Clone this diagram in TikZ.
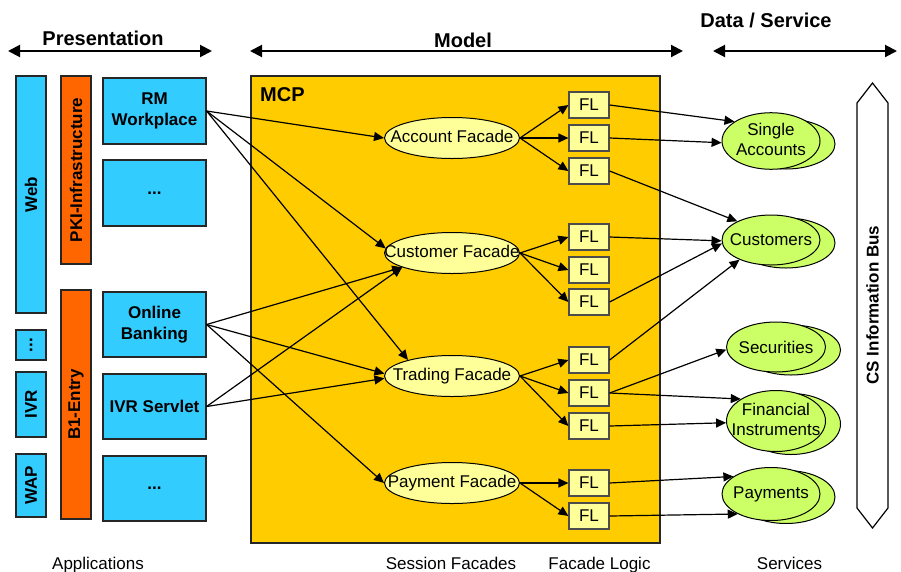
\documentclass[tikz,border=0pt]{standalone}
\usepackage{fontspec}
\setmainfont{Liberation Sans}
\usetikzlibrary{shapes.geometric,arrows.meta}
\definecolor{appblue}{HTML}{33CCFF}
\definecolor{infraorange}{HTML}{FF6600}
\definecolor{mcpgold}{HTML}{FFCC00}
\definecolor{paleyellow}{HTML}{FFFF99}
\definecolor{svcgreen}{HTML}{CCFF66}
\begin{document}
\begin{tikzpicture}[x=1pt,y=-1pt,
  appbox/.style={draw=black!85, line width=1.2pt, fill=appblue, inner sep=0pt,
    font=\fontsize{17}{21}\selectfont\bfseries, align=center},
  infrabox/.style={appbox, fill=infraorange},
  mcpbox/.style={draw=black!85, line width=1.5pt, fill=mcpgold, inner sep=0pt},
  facade/.style={ellipse, draw=black, line width=1pt, fill=paleyellow, inner sep=0pt,
    minimum width=135pt, minimum height=41pt, font=\fontsize{17}{20}\selectfont},
  flbox/.style={draw=black!70, line width=1.2pt, fill=paleyellow, inner sep=0pt,
    minimum width=40pt, minimum height=26pt, font=\fontsize{17}{20}\selectfont},
  svc/.style={ellipse, draw=black, line width=1pt, fill=svcgreen, inner sep=0pt,
    font=\fontsize{17}{20}\selectfont},
  busbox/.style={draw=black, line width=1.2pt, fill=white},
  conn/.style={line width=1.2pt, -{Triangle[length=10pt,width=9pt]}},
  hdrarrow/.style={line width=2pt, {Triangle[length=12pt,width=12pt]}-{Triangle[length=12pt,width=12pt]}},
  hdr/.style={font=\fontsize{20}{24}\selectfont\bfseries, anchor=base, inner sep=0pt},
  foot/.style={font=\fontsize{17}{20}\selectfont, anchor=base, inner sep=0pt}
]
\useasboundingbox (0,0) rectangle (901,571);

% headers
\node[hdr] (hpres) at (103,45) {Presentation};
\node[hdr] (hmodel) at (463,47) {Model};
\node[hdr] (hdata) at (766,27) {Data / Service};
\coordinate (pa1) at (8,51);   \coordinate (pa2) at (212,51);
\coordinate (ma1) at (250,51); \coordinate (ma2) at (683,51);
\coordinate (da1) at (713,51); \coordinate (da2) at (897,51);
\draw[hdrarrow] (pa1) -- (pa2);
\draw[hdrarrow] (ma1) -- (ma2);
\draw[hdrarrow] (da1) -- (da2);

% left column channels
\node[appbox, rotate=90, minimum width=237pt, minimum height=30pt] (web) at (31,194.5) {Web};
\node[appbox, rotate=90, minimum width=30pt, minimum height=30pt] (chdots) at (31,345) {...};
\node[appbox, rotate=90, minimum width=65pt, minimum height=30pt] (ivr) at (31,404.5) {IVR};
\node[appbox, rotate=90, minimum width=63pt, minimum height=30pt] (wap) at (31,485.5) {WAP};

% infrastructure
\node[infrabox, rotate=90, minimum width=188pt, minimum height=30pt] (pki) at (76,170) {PKI-Infrastructure};
\node[infrabox, rotate=90, minimum width=229pt, minimum height=30pt] (b1) at (76,404.5) {B1-Entry};

% applications
\node[appbox, minimum width=103pt, minimum height=66pt] (rm) at (154.5,111) {RM\\Workplace};
\node[appbox, minimum width=103pt, minimum height=66pt] (appdots1) at (154.5,193) {...};
\node[appbox, minimum width=103pt, minimum height=65pt] (ob) at (154.5,324.5) {Online\\Banking};
\node[appbox, minimum width=103pt, minimum height=65pt] (ivrs) at (154.5,406.5) {IVR Servlet};
\node[appbox, minimum width=103pt, minimum height=65pt] (appdots2) at (154.5,488.5) {...};

% MCP
\node[mcpbox, minimum width=409pt, minimum height=467pt] (mcp) at (455.5,309.5) {};
\node[font=\fontsize{20}{24}\selectfont\bfseries, anchor=base west, inner sep=0pt] (mcplabel) at (260,101) {MCP};

% facades
\node[facade, text height=12pt, text depth=3.5pt] (af) at (452,138) {\makebox[0pt]{Account Facade}};
\node[facade, text height=12pt, text depth=3.5pt] (cf) at (452,253) {\makebox[0pt]{Customer Facade}};
\node[facade, text height=12pt, text depth=3.5pt] (tf) at (452,376) {\makebox[0pt]{Trading Facade}};
\node[facade, text height=12pt, text depth=3.5pt] (pf) at (452,483) {\makebox[0pt]{Payment Facade}};

% facade logic
\node[flbox] (fa1) at (589,105) {FL};
\node[flbox] (fa2) at (589,138) {FL};
\node[flbox] (fa3) at (589,171) {FL};
\node[flbox] (fc1) at (589,237) {FL};
\node[flbox] (fc2) at (589,270) {FL};
\node[flbox] (fc3) at (589,302) {FL};
\node[flbox] (ft1) at (589,360) {FL};
\node[flbox] (ft2) at (589,393) {FL};
\node[flbox] (ft3) at (589,426) {FL};
\node[flbox] (fp1) at (589,483) {FL};
\node[flbox] (fp2) at (589,516) {FL};

% services (back ellipses)
\node[svc, minimum width=98pt, minimum height=50pt] (saback) at (786,144) {};
\node[svc, minimum width=98pt, minimum height=50pt] (cuback) at (786,243) {};
\node[svc, minimum width=99pt, minimum height=50pt] (seback) at (791,350) {};
\node[svc, minimum width=99pt, minimum height=61pt] (fiback) at (791,424) {};
\node[svc, minimum width=98pt, minimum height=53pt] (paback) at (786,497) {};
% services (front ellipses)
\node[svc, minimum width=98pt, minimum height=50pt] (sa) at (771,141)
  {\makebox[0pt]{\begin{tabular}{@{}c@{}}Single\\Accounts\end{tabular}}};
\node[svc, minimum width=98pt, minimum height=50pt] (cu) at (771,240) {\makebox[0pt]{Customers}};
\node[svc, minimum width=99pt, minimum height=50pt] (se) at (776,347) {\makebox[0pt]{Securities}};
\node[svc, minimum width=99pt, minimum height=61pt] (fi) at (776,421)
  {\makebox[0pt]{\begin{tabular}{@{}c@{}}Financial\\Instruments\end{tabular}}};
\node[svc, minimum width=98pt, minimum height=53pt] (pa) at (771,494) {\makebox[0pt]{Payments}};

% CS information bus
\draw[busbox] (857,103) -- (872.5,83) -- (888,103) -- (888,508) -- (872.5,528) -- (857,508) -- cycle;
\node[rotate=90, font=\fontsize{17}{20}\selectfont\bfseries, inner sep=0pt] (bus) at (872.5,305) {CS Information Bus};

% footer labels
\node[foot] (fapps) at (98,569) {Applications};
\node[foot] (fsess) at (451,569) {Session Facades};
\node[foot] (flogic) at (599.5,569) {Facade Logic};
\node[foot] (fserv) at (789.5,569) {Services};

% applications -> facades
\draw[conn] (rm.east) -- (af.west);
\draw[conn] (rm.east) -- (cf.176);
\draw[conn] (rm.east) -- (tf.160);
\draw[conn] (ob.east) -- (cf.196);
\draw[conn] (ob.east) -- (tf.178);
\draw[conn] (ob.east) -- (pf.west);
\draw[conn] (ivrs.east) -- (cf.196);
\draw[conn] (ivrs.east) -- (tf.182);

% facades -> facade logic
\draw[conn] (af.east) -- (fa1.west);
\draw[conn] (af.east) -- (fa2.west);
\draw[conn] (af.east) -- (fa3.west);
\draw[conn] (cf.east) -- (fc1.west);
\draw[conn] (cf.east) -- (fc2.west);
\draw[conn] (cf.east) -- (fc3.west);
\draw[conn] (tf.east) -- (ft1.west);
\draw[conn] (tf.east) -- (ft2.west);
\draw[conn] (tf.east) -- (ft3.west);
\draw[conn] (pf.east) -- (fp1.west);
\draw[conn] (pf.east) -- (fp2.west);

% facade logic -> services
\draw[conn] (fa1.east) -- (sa.152);
\draw[conn] (fa2.east) -- (sa.182);
\draw[conn] (fa3.east) -- (cu.151);
\draw[conn] (fc1.east) -- (cu.181);
\draw[conn] (fc3.east) -- (cu.184);
\draw[conn] (ft1.east) -- (cu.212);
\draw[conn] (ft2.east) -- (se.183);
\draw[conn] (ft2.east) -- (fi.148);
\draw[conn] (ft3.east) -- (fi.182);
\draw[conn] (fp1.east) -- (pa.155);
\draw[conn] (fp2.east) -- (pa.211);
\end{tikzpicture}
\end{document}
